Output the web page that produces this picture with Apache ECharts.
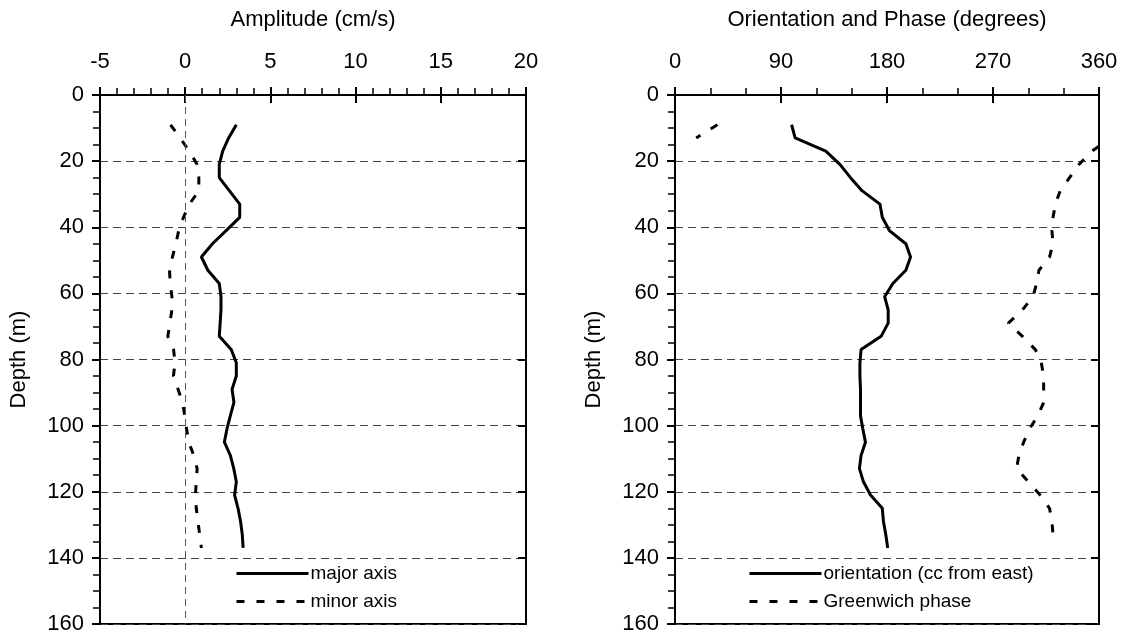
<!DOCTYPE html>
<html>
<head>
<meta charset="utf-8">
<script src="https://cdn.jsdelivr.net/npm/echarts@6/dist/echarts.min.js"></script>
<style>
  html, body { margin: 0; padding: 0; background: #fff; }
  #chart { width: 1128px; height: 638px; }
</style>
</head>
<body>
<div id="chart"></div>
<script>
// depth of each sample (m)
const depth = [9, 13, 17, 21, 25, 29, 33, 37, 41, 45, 49, 53, 57, 61, 65, 69, 73,
  77, 81, 85, 89, 93, 97, 101, 105, 109, 113, 117, 121, 125, 129, 133, 137]

// amplitude (cm/s)
const majorAxis = [3.0, 2.55, 2.2, 2.0, 2.0, 2.6, 3.2, 3.2, 2.4, 1.6, 0.95, 1.33, 2.0,
  2.1, 2.1, 2.05, 2.0, 2.7, 3.0, 3.0, 2.75, 2.86, 2.65, 2.45, 2.3, 2.65, 2.85,
  3.0, 2.9, 3.1, 3.25, 3.35, 3.4]
const minorAxis = [-0.86, -0.3, 0.25, 0.7, 0.8, 0.8, 0.25, -0.1, -0.38, -0.55, -0.75,
  -0.92, -0.88, -0.78, -0.78, -0.9, -1.02, -0.68, -0.6, -0.69, -0.42, -0.15, -0.03,
  0.08, 0.21, 0.5, 0.7, 0.65, 0.6, 0.65, 0.75, 0.85, 0.95]

// orientation (degrees, cc from east)
const orientation = [99, 102, 128, 140, 149, 159, 174, 176, 182, 196, 200, 196, 185,
  178, 181, 181, 175, 158, 157, 157, 157.5, 157.5, 157.5, 159.5, 161.7, 158, 156.6,
  160, 166, 176, 177, 179, 180.6]

// Greenwich phase (degrees); null marks the wrap from 0 back to 360
const phaseDepth = [9, 13, null, 15.5, 17, 21, 25, 29, 33, 37, 41, 45, 49, 53, 57, 61, 65,
  69, 73, 77, 81, 85, 89, 93, 97, 101, 105, 109, 113, 117, 121, 125, 129, 133]
const phase = [36, 18, null, 360, 354, 343, 335, 327, 323, 321, 320, 321, 318, 309, 307,
  304, 295, 283, 295, 306, 311, 313, 313, 313, 308, 301, 296, 292, 290, 300, 310, 318,
  320, 321]

const ampTicks = { min: -5, max: 20, interval: 5, minor: 5 }
const degTicks = { min: 0, max: 360, interval: 90, minor: 3 }
const depthTicks = { min: 0, max: 160, interval: 20, minor: 4 }

const FONT = 'Liberation Sans, Arial, sans-serif'

// build [x, depth] pairs; a null value breaks the line
function pairs(vals, d) {
  return vals.map((v, i) => (v === null || d[i] === null ? '-' : [v, d[i]]))
}

function xAxes(grid, t, name) {
  return [{
    gridIndex: grid,
    type: 'value',
    position: 'top',
    min: t.min,
    max: t.max,
    interval: t.interval,
    name: name,
    nameLocation: 'middle',
    nameGap: 64,
    nameTextStyle: { fontSize: 22, color: '#000', fontFamily: FONT },
    axisLine: { show: true, onZero: false, lineStyle: { color: '#000', width: 2 } },
    axisTick: { show: true, inside: false, length: 8, lineStyle: { color: '#000', width: 2 } },
    minorTick: { show: true, splitNumber: t.minor, length: 7, lineStyle: { color: '#000', width: 1.5 } },
    axisLabel: { fontSize: 22, color: '#000', fontFamily: FONT, margin: 22 },
    splitLine: { show: false }
  }, {
    // inner half of the crossing major ticks
    gridIndex: grid,
    type: 'value',
    position: 'top',
    min: t.min,
    max: t.max,
    interval: t.interval,
    axisLine: { show: false, onZero: false },
    axisTick: { show: true, inside: true, length: 8, lineStyle: { color: '#000', width: 2 } },
    axisLabel: { show: false },
    splitLine: { show: false }
  }]
}

function yAxes(grid, t) {
  return [{
    gridIndex: grid,
    type: 'value',
    inverse: true,
    min: t.min,
    max: t.max,
    interval: t.interval,
    name: 'Depth (m)',
    nameLocation: 'middle',
    nameGap: 70,
    nameRotate: 90,
    nameTextStyle: { fontSize: 22, color: '#000', fontFamily: FONT },
    axisLine: { show: true, onZero: false, lineStyle: { color: '#000', width: 2 } },
    axisTick: { show: true, inside: false, length: 8, lineStyle: { color: '#000', width: 2 } },
    minorTick: { show: true, splitNumber: t.minor, length: 7, lineStyle: { color: '#000', width: 1.5 } },
    axisLabel: { fontSize: 22, color: '#000', fontFamily: FONT, margin: 16 },
    splitLine: { show: true, lineStyle: { color: '#444', width: 1, type: [8, 5] } }
  }, {
    gridIndex: grid,
    type: 'value',
    inverse: true,
    min: t.min,
    max: t.max,
    interval: t.interval,
    axisLine: { show: false, onZero: false },
    axisTick: { show: true, inside: true, length: 8, lineStyle: { color: '#000', width: 2 } },
    axisLabel: { show: false },
    splitLine: { show: false }
  }]
}

const solid = { color: '#000', width: 3, type: 'solid' }
const dashed = { color: '#000', width: 3, type: [8, 12] }

function legendAt(left, names) {
  return {
    orient: 'vertical',
    left: left,
    top: 564,
    itemWidth: 72,
    itemHeight: 14,
    itemGap: 9,
    padding: 0,
    data: names,
    itemStyle: { opacity: 0 },
    lineStyle: { width: 3 },
    textStyle: { fontSize: 19, color: '#000', fontFamily: FONT, padding: [0, 0, 0, -3] }
  }
}

const chart = echarts.init(document.getElementById('chart'), null, { renderer: 'canvas' })
chart.setOption({
  animation: false,
  backgroundColor: '#fff',
  textStyle: { fontFamily: FONT },
  grid: [
    { left: 100, top: 95, width: 426, height: 529, show: true, borderColor: '#000', borderWidth: 2 },
    { left: 675, top: 95, width: 424, height: 529, show: true, borderColor: '#000', borderWidth: 2 }
  ],
  xAxis: xAxes(0, ampTicks, 'Amplitude (cm/s)').concat(xAxes(1, degTicks, 'Orientation and Phase (degrees)')),
  yAxis: yAxes(0, depthTicks).concat(yAxes(1, depthTicks)),
  legend: [
    legendAt(235, ['major axis', 'minor axis']),
    legendAt(748, ['orientation (cc from east)', 'Greenwich phase'])
  ],
  series: [
    {
      name: 'major axis',
      type: 'line',
      xAxisIndex: 0,
      yAxisIndex: 0,
      symbol: 'none',
      lineStyle: solid,
      itemStyle: { color: '#000' },
      data: pairs(majorAxis, depth),
      markLine: {
        silent: true,
        symbol: 'none',
        label: { show: false },
        lineStyle: { color: '#555', width: 1, type: [7, 5] },
        data: [{ xAxis: 0 }]
      }
    },
    {
      name: 'minor axis',
      type: 'line',
      xAxisIndex: 0,
      yAxisIndex: 0,
      symbol: 'none',
      lineStyle: dashed,
      itemStyle: { color: '#000' },
      data: pairs(minorAxis, depth)
    },
    {
      name: 'orientation (cc from east)',
      type: 'line',
      xAxisIndex: 2,
      yAxisIndex: 2,
      symbol: 'none',
      lineStyle: solid,
      itemStyle: { color: '#000' },
      data: pairs(orientation, depth)
    },
    {
      name: 'Greenwich phase',
      type: 'line',
      xAxisIndex: 2,
      yAxisIndex: 2,
      symbol: 'none',
      connectNulls: false,
      lineStyle: dashed,
      itemStyle: { color: '#000' },
      data: pairs(phase, phaseDepth)
    }
  ]
})
</script>
</body>
</html>
